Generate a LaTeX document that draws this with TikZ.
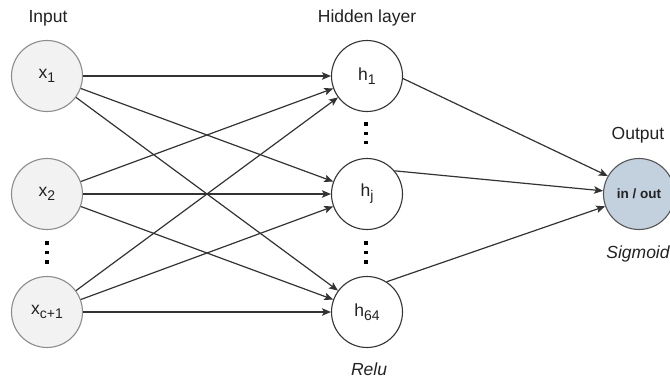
\documentclass[tikz,border=0pt]{standalone}
\usepackage{fontspec}
\setmainfont{Liberation Sans}
\usetikzlibrary{arrows.meta}

\definecolor{wire}{HTML}{333333}
\definecolor{inborder}{HTML}{8C8C8C}
\definecolor{infill}{HTML}{F2F2F2}
\definecolor{hidborder}{HTML}{333333}
\definecolor{outfill}{HTML}{C3D1DF}
\definecolor{outborder}{HTML}{555555}
\definecolor{txt}{HTML}{222222}

\tikzset{
  neuron/.style={circle, minimum size=71pt, inner sep=0pt, line width=1.1pt,
    font=\fontsize{17.5}{19}\selectfont, text=txt},
  innode/.style={neuron, draw=inborder, fill=infill},
  hidnode/.style={neuron, draw=hidborder, fill=white},
  outnode/.style={neuron, draw=outborder, fill=outfill,
    font=\fontsize{13.5}{15}\selectfont\bfseries},
  caption/.style={anchor=base, font=\fontsize{17.5}{20}\selectfont, text=txt},
  conn/.style={draw=wire, line width=1.2pt,
    -{Stealth[length=9pt, width=7.5pt, inset=2pt]}},
  dot/.style={fill=black}
}
% subscript set a little lower and smaller than the base letter
\newcommand{\sub}[1]{\raisebox{-4pt}{\fontsize{14}{14}\selectfont #1}}
\newcommand{\vdotsat}[2]{%
  \foreach \dy in {-9.3,0,9.3}{\fill[dot] (#1-1.8,#2+\dy-1.8) rectangle (#1+1.8,#2+\dy+1.8);}}

\begin{document}
\begin{tikzpicture}[x=1pt, y=-1pt]
\useasboundingbox (0,0) rectangle (670,381);
\clip (0,0) rectangle (670,381);

% layer captions
\node[caption] (capin)  at (48,22)  {Input};
\node[caption] (caphid) at (367,22) {Hidden layer};
\node[caption] (capout) at (638,139) {Output};
\node[caption, font=\fontsize{17.5}{20}\selectfont\itshape] (actrelu) at (369,375) {Relu};
\node[caption, font=\fontsize{17.5}{20}\selectfont\itshape] (actsig) at (638,258) {Sigmoid};

% input layer
\node[innode] (x1) at (47,76)  {x\sub{1}};
\node[innode] (x2) at (47,194) {x\sub{2}};
\node[innode] (x3) at (47,312) {x\sub{c+1}};

% hidden layer
\node[hidnode] (h1)  at (367,76)  {h\sub{1}};
\node[hidnode] (hj)  at (367,194) {h\sub{j}};
\node[hidnode] (h64) at (367,312) {h\sub{64}};

% output neuron
\node[outnode] (out) at (639,194) {in / out};

% ellipses between neurons
\vdotsat{47}{252.5}
\vdotsat{366}{133.3}
\vdotsat{366}{252.5}

% fully connected weights
\foreach \i in {x1,x2,x3}
  \foreach \j in {h1,hj,h64}
    \draw[conn] (\i) -- (\j);
\draw[conn] (h1.-4)  -- (out.150);
\draw[conn] (hj.40)  -- (out.175);
\draw[conn] (h64.57) -- (out.200);
\end{tikzpicture}
\end{document}
